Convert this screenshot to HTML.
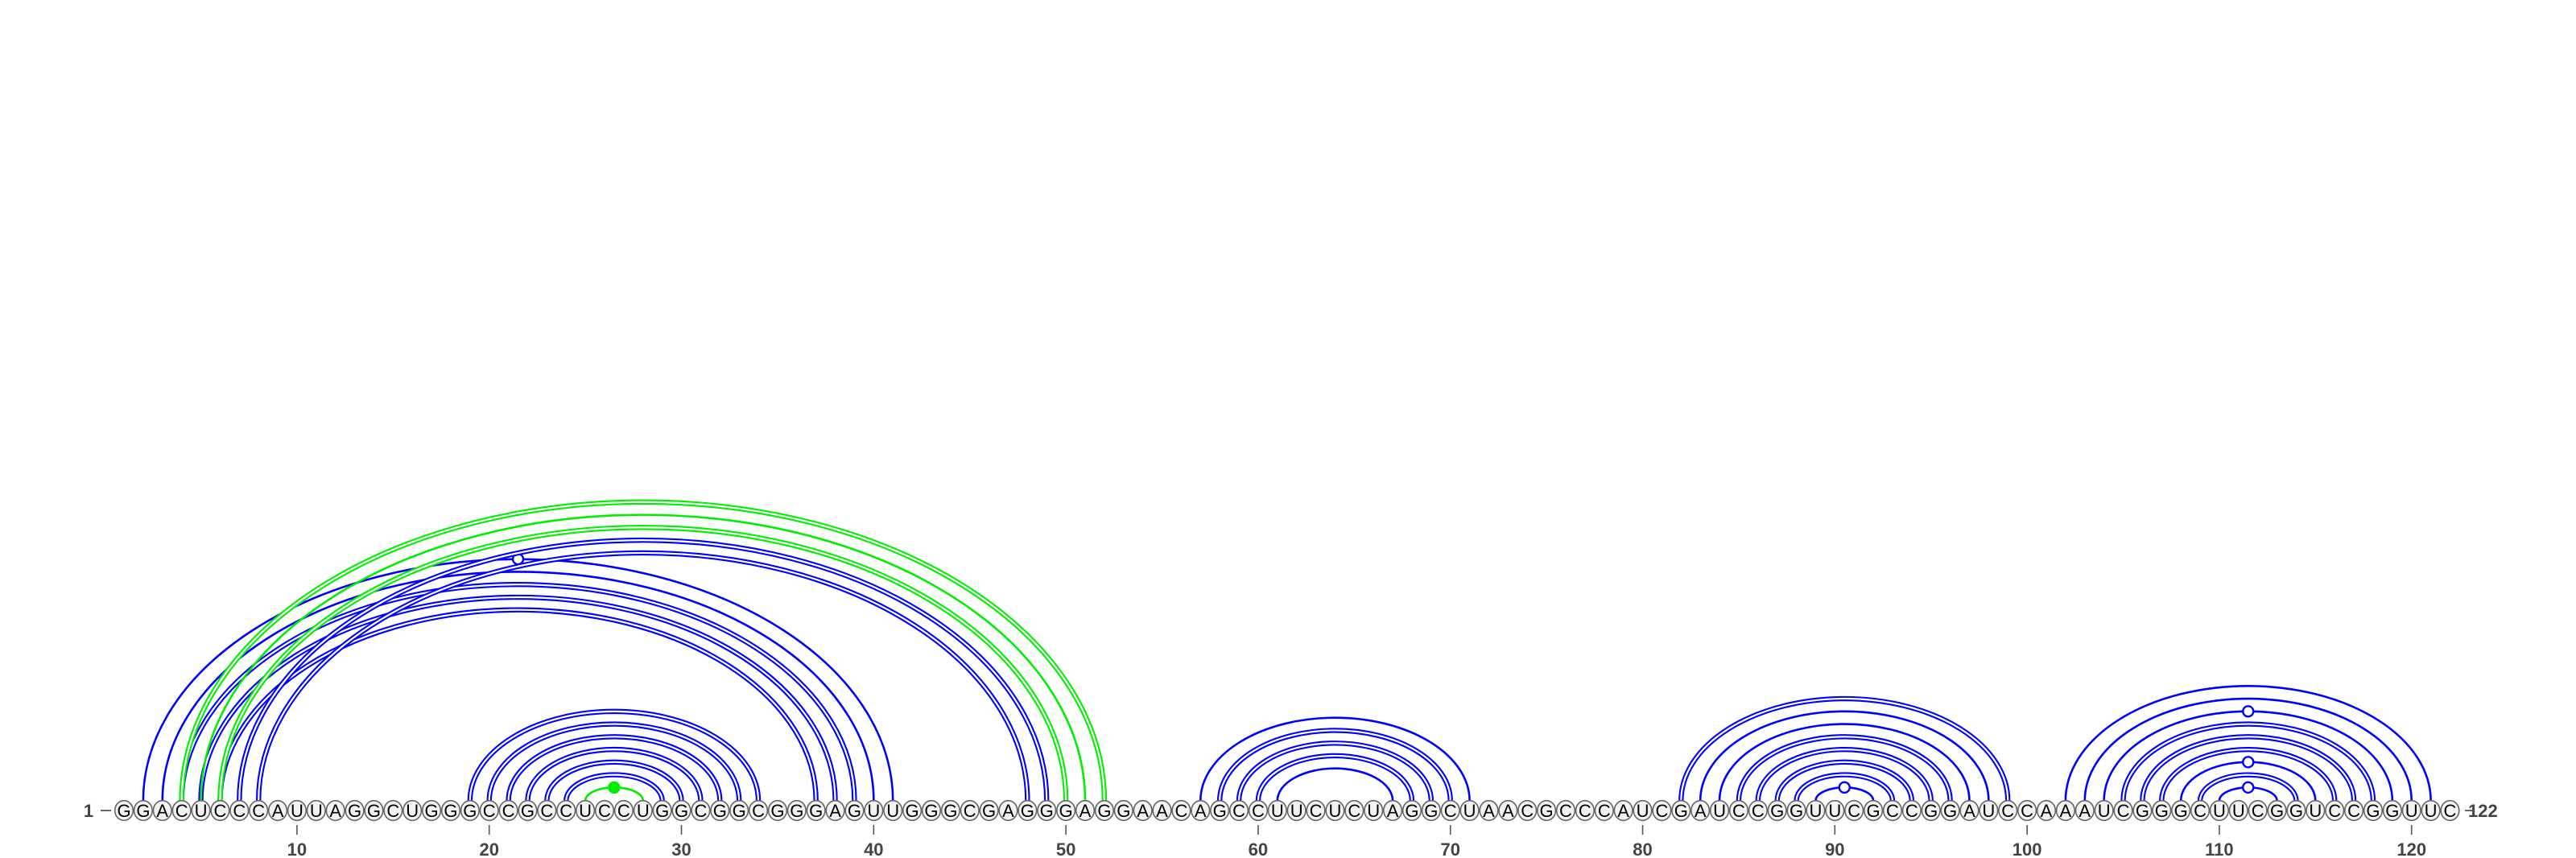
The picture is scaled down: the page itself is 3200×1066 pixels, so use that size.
<!DOCTYPE html>
<html><head><meta charset="utf-8"><style>
html,body{margin:0;padding:0;background:#fff;}
svg{display:block;}
text{font-family:"Liberation Sans",sans-serif;}
</style></head><body>
<svg id="chart" width="3200" height="1066" viewBox="0 0 3200 1066" xmlns="http://www.w3.org/2000/svg">
<g id="arcs"></g>
<g id="bases"></g>
<g id="axis"></g>
</svg>
<script>
const sequence = "GGACUCCCAUUAGGCUGGGCCGCCUCCUGGCGGCGGGAGUUGGGCGAGGGAGGAACAGCCUUCUCUAGGCUAACGCCCAUCGAUCCGGUUCGCCGGAUCCAAAUCGGGCUUCGGUCCGGUUC";
// base pairs: [i, j]
const pairStarts = [2,3,4,5,6, 7,8, 4,5,6, 19,20,21,22,23,24,25, 57,58,59,60,61, 82,83,84,85,86,87,88,89, 102,103,104,105,106,107,108,109,110];
const pairEnds   = [41,40,39,38,37, 49,48, 52,51,50, 34,33,32,31,30,29,28, 71,70,69,68,67, 99,98,97,96,95,94,93,92, 121,120,119,118,117,116,115,114,113];
// d = doubled line, s = single
const pairStyles = ["s","s","d","d","d", "d","d", "d","s","d", "d","d","d","d","d","d","s", "s","d","d","d","s", "d","s","s","d","d","d","d","s", "s","s","s","d","d","d","s","d","s"];
const pairColors = ["b","b","b","b","b", "b","b", "g","g","g", "b","b","b","b","b","b","g", "b","b","b","b","b", "b","b","b","b","b","b","b","b", "b","b","b","b","b","b","b","b","b"];
// o = open marker, f = filled marker, - = none
const pairMarkers = ["o","-","-","-","-", "-","-", "-","-","-", "-","-","-","-","-","-","f", "-","-","-","-","-", "-","-","-","-","-","-","-","o", "-","-","o","-","-","-","o","-","o"];
const tickValues = [10,20,30,40,50,60,70,80,90,100,110,120];

const NS = "http://www.w3.org/2000/svg";
const x0 = 154, step = 23.88, yc = 1007, yb = 995;
function xPos(i){ return x0 + (i-1)*step; }
function arcRy(w){ return 0.33*w - 7; }
const colorMap = {b:"#0000ff", g:"#00ee00"};

const arcsG = document.getElementById('arcs');
const order = pairStarts.map((_,k)=>k).sort((a,b)=> (pairColors[a]==="g") - (pairColors[b]==="g"));
order.forEach(k=>{
  const x1 = xPos(pairStarts[k]), x2 = xPos(pairEnds[k]);
  const rx = (x2-x1)/2, ry = arcRy(x2-x1);
  const d = `M ${x1} ${yb} A ${rx} ${ry} 0 0 1 ${x2} ${yb}`;
  const col = colorMap[pairColors[k]];
  const g = document.createElementNS(NS,'g');
  
  
  const p = document.createElementNS(NS,'path');
  p.setAttribute('d', d); p.setAttribute('fill','none'); p.setAttribute('stroke', col);
  p.setAttribute('stroke-width', pairStyles[k]==="d" ? 6.4 : 2.6);
  g.appendChild(p);
  if (pairStyles[k]==="d"){
    const p2 = document.createElementNS(NS,'path');
    p2.setAttribute('d', d); p2.setAttribute('fill','none'); p2.setAttribute('stroke','#fff');
    p2.setAttribute('stroke-width', 2.2);
    g.appendChild(p2);
  }
  if (pairMarkers[k] !== "-"){
    const c = document.createElementNS(NS,'circle');
    
    
    c.setAttribute('cx', (x1+x2)/2); c.setAttribute('cy', yb-ry);
    c.setAttribute('r', 6.5);
    c.setAttribute('fill', pairMarkers[k]==="f" ? col : '#fff');
    c.setAttribute('stroke', col); c.setAttribute('stroke-width', 2.4);
    g.appendChild(c);
  }
  arcsG.appendChild(g);
});

const basesG = document.getElementById('bases');
for (let i=1;i<=sequence.length;i++){
  const g = document.createElementNS(NS,'g');
  
  
  const e = document.createElementNS(NS,'ellipse');
  e.setAttribute('cx', xPos(i)); e.setAttribute('cy', yc); e.setAttribute('rx', 11.3); e.setAttribute('ry', 12.3);
  e.setAttribute('fill', '#f2f2f2'); e.setAttribute('stroke', '#666'); e.setAttribute('stroke-width', 1.6);
  g.appendChild(e);
  const t = document.createElementNS(NS,'text');
  t.setAttribute('x', xPos(i)); t.setAttribute('y', yc+8);
  t.setAttribute('text-anchor','middle'); t.setAttribute('font-size','22');
  t.setAttribute('fill','#000');
  t.textContent = sequence[i-1];
  g.appendChild(t);
  basesG.appendChild(g);
}

const axisG = document.getElementById('axis');
tickValues.forEach(v=>{
  const l = document.createElementNS(NS,'line');
  
  
  l.setAttribute('x1', xPos(v)); l.setAttribute('x2', xPos(v));
  l.setAttribute('y1', 1025); l.setAttribute('y2', 1037);
  l.setAttribute('stroke', '#555'); l.setAttribute('stroke-width', 1.6);
  axisG.appendChild(l);
  const t = document.createElementNS(NS,'text');
  
  
  t.setAttribute('x', xPos(v)); t.setAttribute('y', 1063);
  t.setAttribute('text-anchor','middle'); t.setAttribute('font-size','22'); t.setAttribute('font-weight','bold');
  t.setAttribute('fill','#444');
  t.textContent = v;
  axisG.appendChild(t);
});
function endLabel(txt, x, anchor, name){
  const t = document.createElementNS(NS,'text');
  
  
  t.setAttribute('x', x); t.setAttribute('y', yc+8);
  t.setAttribute('text-anchor', anchor); t.setAttribute('font-size','22'); t.setAttribute('font-weight','bold');
  t.setAttribute('fill','#444');
  t.textContent = txt;
  axisG.appendChild(t);
}
endLabel("1", 110, "middle", "start-label");
endLabel(String(sequence.length), 3066, "start", "end-label");
function dash(x1,x2,name){
  const l = document.createElementNS(NS,'line');
  
  
  l.setAttribute('x1', x1); l.setAttribute('x2', x2); l.setAttribute('y1', yc); l.setAttribute('y2', yc);
  l.setAttribute('stroke', '#555'); l.setAttribute('stroke-width', 1.8);
  axisG.appendChild(l);
}
dash(125, 138, "start-dash");
dash(3062, 3074, "end-dash");
</script>
</body></html>
